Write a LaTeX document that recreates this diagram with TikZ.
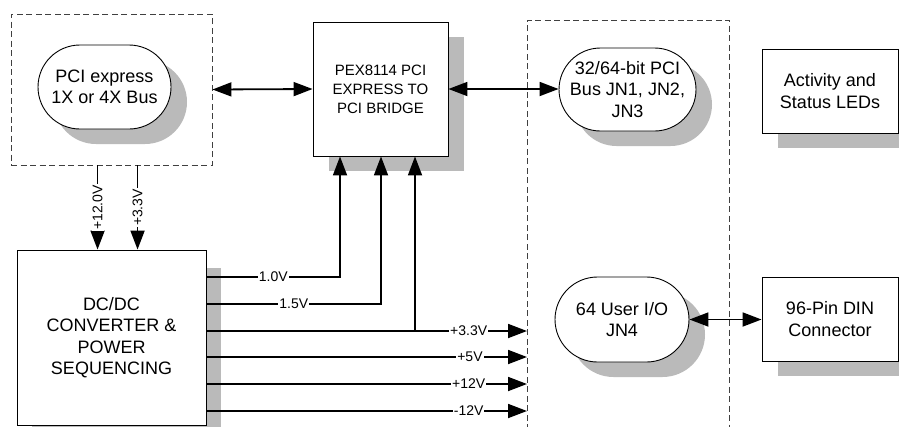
\documentclass[tikz,border=0pt]{standalone}
\usepackage{fontspec}
\setmainfont{Liberation Sans}
\usetikzlibrary{shapes.misc,shadows,arrows.meta,calc}
\begin{document}
\begin{tikzpicture}[x=1pt,y=-1pt,
  box/.style={draw,line width=0.9pt,fill=white,align=center,inner sep=0pt},
  shad/.style={drop shadow={shadow xshift=16pt,shadow yshift=-15pt,fill=black!27,opacity=1}},
  pill/.style={box,rounded rectangle},
  big/.style={font=\fontsize{18}{21.5}\selectfont},
  dsh/.style={draw=black!75,line width=0.9pt,dash pattern=on 6pt off 3.5pt},
  arr/.style={line width=1.8pt,-{Triangle[length=19pt,width=14pt]}},
  darr/.style={line width=1.8pt,{Triangle[length=19pt,width=14pt]}-{Triangle[length=19pt,width=14pt]}},
  lab/.style={font=\fontsize{14}{16}\selectfont,fill=white,inner sep=1pt}
]
\useasboundingbox (0,0) rectangle (899,426);
% dashed groups
\node[dsh,minimum width=201pt,minimum height=151pt,inner sep=0pt] (pcibox) at (111.5,89.5) {};
\coordinate (rtl) at (527,20);
\coordinate (rtr) at (729,20);
\draw[dsh] (527,430) -- (rtl) -- (rtr) -- (729,430);
% nodes
\node[pill,shad,big,minimum width=133pt,minimum height=84pt] (pcie) at (104.5,87) {PCI express\\1X or 4X Bus};
\node[box,shad,minimum width=135pt,minimum height=134pt,font=\fontsize{15}{19}\selectfont] (pex) at (380.5,89) {PEX8114 PCI\\EXPRESS TO\\PCI BRIDGE};
\node[pill,shad,big,minimum width=131pt,minimum height=83pt] (pci64) at (627.5,89.5) {32/64-bit PCI\\Bus JN1, JN2,\\JN3};
\node[box,shad,big,minimum width=136pt,minimum height=84pt] (led) at (830,91) {Activity and\\Status LEDs};
\node[box,drop shadow={shadow xshift=15pt,shadow yshift=-18pt,fill=black!27,opacity=1},big,minimum width=189pt,minimum height=175pt] (dc) at (111.5,337.5) {DC/DC\\CONVERTER \&\\POWER\\SEQUENCING};
\node[pill,shad,big,minimum width=134pt,minimum height=85pt] (uio) at (622,319.5) {64 User I/O\\JN4};
\node[box,shad,big,minimum width=136pt,minimum height=84pt] (din) at (830,319) {96-Pin DIN\\Connector};
% bus arrows
\draw[darr] (pcibox.east) -- (pex.west);
\draw[darr] (pex.east) -- (pci64.west |- pex.east);
\draw[darr] (uio.east) -- (din.west |- uio.east);
% input power
\draw[arr] ([xshift=87pt]pcibox.south west) -- node[lab,rotate=90]{+12.0V} ([xshift=81pt]dc.north west);
\draw[arr] ([xshift=127pt]pcibox.south west) -- node[lab,rotate=90]{+3.3V} ([xshift=121pt]dc.north west);
% output power
\draw[arr] ([yshift=60.5pt]dc.east) -| node[lab,pos=0.25]{1.0V} ([xshift=-40.5pt]pex.south);
\draw[arr] ([yshift=33.5pt]dc.east) -| node[lab,pos=0.25]{1.5V} ([xshift=0.5pt]pex.south);
\coordinate (p33) at ([yshift=6.5pt]dc.east);
\draw[arr] (p33) -- node[lab,pos=0.818]{+3.3V} (p33 -| rtl);
\draw[arr] (p33 -| 415,0) -- ([xshift=34.5pt]pex.south);
\coordinate (p5) at ([yshift=-19.5pt]dc.east);
\draw[arr] (p5) -- node[lab,pos=0.822]{+5V} (p5 -| rtl);
\coordinate (p12) at ([yshift=-46.5pt]dc.east);
\draw[arr] (p12) -- node[lab,pos=0.818]{+12V} (p12 -| rtl);
\coordinate (m12) at ([yshift=-73.5pt]dc.east);
\draw[arr] (m12) -- node[lab,pos=0.818]{-12V} (m12 -| rtl);
\end{tikzpicture}
\end{document}
